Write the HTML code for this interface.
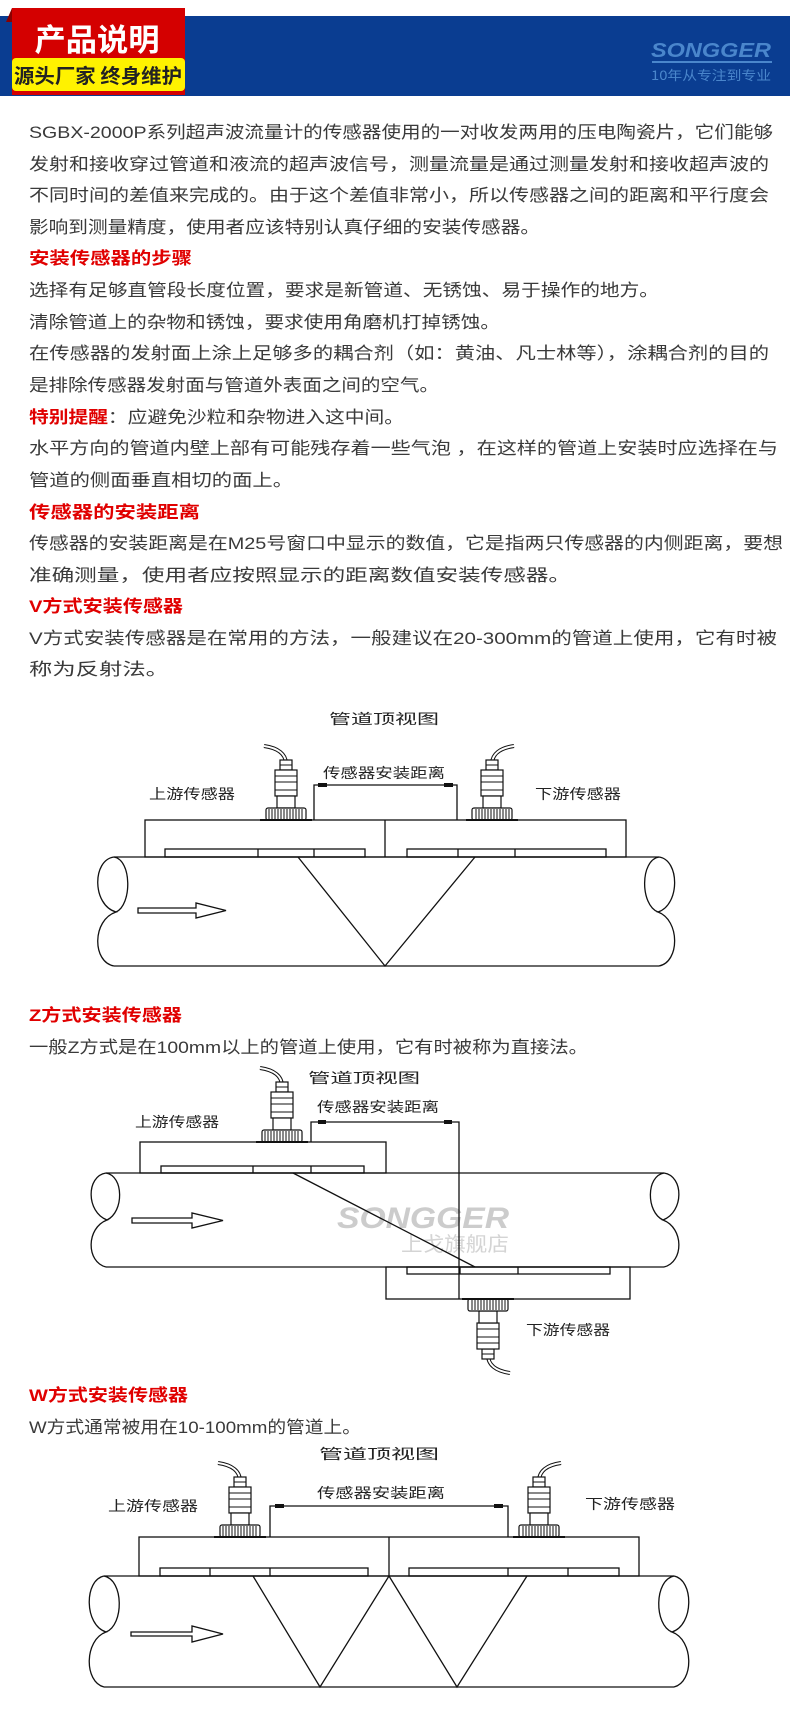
<!DOCTYPE html>
<html><head><meta charset="utf-8"><style>
html,body{margin:0;padding:0;background:#fff;}
svg{display:block;}
.t{font-family:"Liberation Sans","Noto Sans CJK SC",sans-serif;font-size:17px;fill:#3a3a3a;}
.r{font-family:"Liberation Sans","Noto Sans CJK SC",sans-serif;font-size:17px;fill:#e00000;font-weight:bold;}
.d{font-family:"Noto Sans CJK SC",sans-serif;font-size:14px;fill:#222;}
.ln{fill:none;stroke:#111;stroke-width:1.3;}
</style></head><body>
<svg width="790" height="1710" viewBox="0 0 790 1710" xmlns="http://www.w3.org/2000/svg">
<defs>
<g id="sn">
 <path d="M0,-56 C0,-66 -8,-72 -22,-74" fill="none" stroke="#111" stroke-width="4"/>
 <path d="M0,-56 C0,-66 -8,-72 -22,-74" fill="none" stroke="#fff" stroke-width="2"/>
 <rect x="-6" y="-60" width="12" height="10" fill="#fff" stroke="#111" stroke-width="1.2"/>
 <line x1="-6" y1="-55" x2="6" y2="-55" stroke="#111"/>
 <rect x="-11" y="-50" width="22" height="26" fill="#fff" stroke="#111" stroke-width="1.2"/>
 <line x1="-11" y1="-44" x2="11" y2="-44" stroke="#111"/>
 <line x1="-11" y1="-38" x2="11" y2="-38" stroke="#111"/>
 <line x1="-11" y1="-30" x2="11" y2="-30" stroke="#111"/>
 <rect x="-9" y="-24" width="18" height="12" fill="#fff" stroke="#111" stroke-width="1.2"/>
 <rect x="-20" y="-12" width="40" height="12" rx="2" fill="#fff" stroke="#111" stroke-width="1.2"/>
 <path d="M-17,-11V-1M-14,-11V-1M-11,-11V-1M-8,-11V-1M-5,-11V-1M-2,-11V-1M1,-11V-1M4,-11V-1M7,-11V-1M10,-11V-1M13,-11V-1M16,-11V-1" stroke="#111" stroke-width="1"/>
 <line x1="-26" y1="0" x2="26" y2="0" stroke="#111" stroke-width="2"/>
</g>
</defs>

<!-- header -->
<rect x="0" y="16" width="790" height="80" fill="#0a3d91"/>
<path d="M6,22 L12,8 L12,22 Z" fill="#8a0000"/>
<rect x="12" y="8" width="173" height="87" fill="#d40000"/>
<text x="97" y="51" text-anchor="middle" font-family="Noto Sans CJK SC,sans-serif" font-weight="bold" font-size="31" fill="#fff" textLength="125" lengthAdjust="spacingAndGlyphs">产品说明</text>
<rect x="12" y="58" width="173" height="33" rx="4" fill="#fff200"/>
<text x="98" y="83" text-anchor="middle" font-family="Noto Sans CJK SC,sans-serif" font-weight="bold" font-size="20" fill="#222" textLength="168" lengthAdjust="spacingAndGlyphs">源头厂家 终身维护</text>
<text x="711" y="57" text-anchor="middle" font-family="Liberation Sans,sans-serif" font-weight="bold" font-style="italic" font-size="20" fill="#4a86cc" textLength="120" lengthAdjust="spacingAndGlyphs">SONGGER</text>
<rect x="652" y="61" width="120" height="2" fill="#4a86cc"/>
<text x="711" y="80" text-anchor="middle" font-family="Noto Sans CJK SC,sans-serif" font-size="13" fill="#4a86cc" textLength="120" lengthAdjust="spacingAndGlyphs">10年从专注到专业</text>

<!-- body text -->
<g>
<text class="t" x="29" y="138" textLength="744" lengthAdjust="spacingAndGlyphs">SGBX-2000P系列超声波流量计的传感器使用的一对收发两用的压电陶瓷片，它们能够</text>
<text class="t" x="29" y="170" textLength="740" lengthAdjust="spacingAndGlyphs">发射和接收穿过管道和液流的超声波信号，测量流量是通过测量发射和接收超声波的</text>
<text class="t" x="29" y="201" textLength="740" lengthAdjust="spacingAndGlyphs">不同时间的差值来完成的。由于这个差值非常小，所以传感器之间的距离和平行度会</text>
<text class="t" x="29" y="233" textLength="511" lengthAdjust="spacingAndGlyphs">影响到测量精度，使用者应该特别认真仔细的安装传感器。</text>
<text class="r" x="29" y="264" textLength="163" lengthAdjust="spacingAndGlyphs">安装传感器的步骤</text>
<text class="t" x="29" y="296" textLength="630" lengthAdjust="spacingAndGlyphs">选择有足够直管段长度位置，要求是新管道、无锈蚀、易于操作的地方。</text>
<text class="t" x="29" y="328" textLength="471" lengthAdjust="spacingAndGlyphs">清除管道上的杂物和锈蚀，要求使用角磨机打掉锈蚀。</text>
<text class="t" x="29" y="359" textLength="740" lengthAdjust="spacingAndGlyphs">在传感器的发射面上涂上足够多的耦合剂（如：黄油、凡士林等），涂耦合剂的目的</text>
<text class="t" x="29" y="391" textLength="410" lengthAdjust="spacingAndGlyphs">是排除传感器发射面与管道外表面之间的空气。</text>
<text class="t" x="29" y="423" textLength="375" lengthAdjust="spacingAndGlyphs"><tspan fill="#e00000" font-weight="bold">特别提醒</tspan>：应避免沙粒和杂物进入这中间。</text>
<text class="t" x="29" y="454" textLength="749" lengthAdjust="spacingAndGlyphs">水平方向的管道内壁上部有可能残存着一些气泡 ，在这样的管道上安装时应选择在与</text>
<text class="t" x="29" y="486" textLength="264" lengthAdjust="spacingAndGlyphs">管道的侧面垂直相切的面上。</text>
<text class="r" x="29" y="518" textLength="171" lengthAdjust="spacingAndGlyphs">传感器的安装距离</text>
<text class="t" x="29" y="549" textLength="754" lengthAdjust="spacingAndGlyphs">传感器的安装距离是在M25号窗口中显示的数值，它是指两只传感器的内侧距离，要想</text>
<text class="t" x="29" y="581" textLength="542" lengthAdjust="spacingAndGlyphs">准确测量，使用者应按照显示的距离数值安装传感器。</text>
<text class="r" x="29" y="612" textLength="154" lengthAdjust="spacingAndGlyphs">V方式安装传感器</text>
<text class="t" x="29" y="644" textLength="748" lengthAdjust="spacingAndGlyphs">V方式安装传感器是在常用的方法，一般建议在20-300mm的管道上使用，它有时被</text>
<text class="t" x="29" y="675" textLength="140" lengthAdjust="spacingAndGlyphs">称为反射法。</text>
</g>

<!-- V diagram -->
<g>
<text class="d" x="384" y="724" text-anchor="middle" font-size="16" textLength="110" lengthAdjust="spacingAndGlyphs">管道顶视图</text>
<text class="d" x="384" y="778" text-anchor="middle" textLength="122" lengthAdjust="spacingAndGlyphs">传感器安装距离</text>
<text class="d" x="192" y="799" text-anchor="middle" textLength="86" lengthAdjust="spacingAndGlyphs">上游传感器</text>
<text class="d" x="578" y="799" text-anchor="middle" textLength="86" lengthAdjust="spacingAndGlyphs">下游传感器</text>
<rect x="145" y="820" width="481" height="37" class="ln"/>
<line x1="385" y1="820" x2="385" y2="857" class="ln"/>
<rect x="165" y="849" width="200" height="8" class="ln"/>
<path d="M258,849V857M314,849V857" class="ln"/>
<rect x="407" y="849" width="199" height="8" class="ln"/>
<path d="M458,849V857M515,849V857" class="ln"/>
<path d="M314,820V785H457V820M314,785h14M443,785h14" class="ln"/>
<rect x="318" y="783" width="9" height="4" fill="#111"/><rect x="444" y="783" width="9" height="4" fill="#111"/>
<use href="#sn" x="286" y="820"/>
<use href="#sn" x="492" y="820" transform="translate(984,0) scale(-1,1)"/>
<path d="M114,857H659M114,966H659" class="ln"/>
<path d="M114,857 C92,860 92,905 116,912 C92,920 92,962 114,966" class="ln"/>
<path d="M114,857 C132,860 132,905 116,912" class="ln"/>
<path d="M659,857 C680,860 680,905 658,912 C680,920 680,962 659,966" class="ln"/>
<path d="M659,857 C640,860 640,905 658,912" class="ln"/>
<path d="M298,857 L385,966 L475,857" class="ln"/>
<path d="M138,908H196V903L226,910.5L196,918V913H138Z" class="ln"/>
</g>

<!-- Z -->
<text class="r" x="29" y="1021" textLength="153" lengthAdjust="spacingAndGlyphs">Z方式安装传感器</text>
<text class="t" x="29" y="1053" textLength="559" lengthAdjust="spacingAndGlyphs">一般Z方式是在100mm以上的管道上使用，它有时被称为直接法。</text>
<g>
<text class="d" x="364" y="1083" text-anchor="middle" font-size="15" textLength="112" lengthAdjust="spacingAndGlyphs">管道顶视图</text>
<text class="d" x="378" y="1112" text-anchor="middle" font-size="12" textLength="122" lengthAdjust="spacingAndGlyphs">传感器安装距离</text>
<text class="d" x="177" y="1127" text-anchor="middle" font-size="12" textLength="84" lengthAdjust="spacingAndGlyphs">上游传感器</text>
<text class="d" x="568" y="1335" text-anchor="middle" font-size="12" textLength="84" lengthAdjust="spacingAndGlyphs">下游传感器</text>
<text x="423" y="1228" text-anchor="middle" font-family="Liberation Sans,sans-serif" font-weight="bold" font-style="italic" font-size="30" fill="#ccc" textLength="172" lengthAdjust="spacingAndGlyphs">SONGGER</text>
<text x="455" y="1251" text-anchor="middle" font-family="Noto Sans CJK SC,sans-serif" font-size="20" fill="#d4d4d4" textLength="108" lengthAdjust="spacingAndGlyphs">上戈旗舰店</text>
<rect x="140" y="1142" width="246" height="31" class="ln"/>
<rect x="161" y="1166" width="203" height="7" class="ln"/>
<path d="M253,1166V1173M311,1166V1173" class="ln"/>
<rect x="386" y="1267" width="244" height="32" class="ln"/>
<rect x="407" y="1267" width="203" height="7" class="ln"/>
<path d="M460,1267V1274M518,1267V1274" class="ln"/>
<path d="M311,1142V1122H459V1299" class="ln"/>
<rect x="318" y="1120" width="8" height="4" fill="#111"/><rect x="444" y="1120" width="8" height="4" fill="#111"/>
<use href="#sn" x="282" y="1142"/>
<use href="#sn" transform="translate(488,1299) scale(-1,-1)"/>
<path d="M106,1173H664M106,1267H664" class="ln"/>
<path d="M106,1173 C86,1176 86,1212 107,1220 C86,1228 86,1262 106,1267" class="ln"/>
<path d="M106,1173 C124,1176 124,1212 107,1220" class="ln"/>
<path d="M664,1173 C684,1176 684,1212 663,1220 C684,1228 684,1262 664,1267" class="ln"/>
<path d="M664,1173 C646,1176 646,1212 663,1220" class="ln"/>
<path d="M293,1173 L475,1267" class="ln"/>
<path d="M132,1218H192V1213L223,1220.5L192,1228V1223H132Z" class="ln"/>
</g>

<!-- W -->
<text class="r" x="29" y="1401" textLength="159" lengthAdjust="spacingAndGlyphs">W方式安装传感器</text>
<text class="t" x="29" y="1433" textLength="332" lengthAdjust="spacingAndGlyphs">W方式通常被用在10-100mm的管道上。</text>
<g>
<text class="d" x="379" y="1459" text-anchor="middle" font-size="19" textLength="120" lengthAdjust="spacingAndGlyphs">管道顶视图</text>
<text class="d" x="381" y="1498" text-anchor="middle" font-size="16" textLength="128" lengthAdjust="spacingAndGlyphs">传感器安装距离</text>
<text class="d" x="153" y="1511" text-anchor="middle" font-size="16" textLength="90" lengthAdjust="spacingAndGlyphs">上游传感器</text>
<text class="d" x="630" y="1509" text-anchor="middle" font-size="16" textLength="90" lengthAdjust="spacingAndGlyphs">下游传感器</text>
<rect x="139" y="1537" width="500" height="39" class="ln"/>
<line x1="389" y1="1537" x2="389" y2="1576" class="ln"/>
<rect x="160" y="1568" width="208" height="8" class="ln"/>
<path d="M210,1568V1576M270,1568V1576" class="ln"/>
<rect x="409" y="1568" width="210" height="8" class="ln"/>
<path d="M508,1568V1576M568,1568V1576" class="ln"/>
<path d="M270,1537V1506H508V1537" class="ln"/>
<rect x="275" y="1504" width="9" height="4" fill="#111"/><rect x="494" y="1504" width="9" height="4" fill="#111"/>
<use href="#sn" x="240" y="1537"/>
<use href="#sn" transform="translate(539,1537) scale(-1,1)"/>
<path d="M104,1576H674M104,1687H674" class="ln"/>
<path d="M104,1576 C84,1580 84,1625 106,1632 C84,1640 84,1682 104,1687" class="ln"/>
<path d="M104,1576 C124,1580 124,1625 106,1632" class="ln"/>
<path d="M674,1576 C694,1580 694,1625 672,1632 C694,1640 694,1682 674,1687" class="ln"/>
<path d="M674,1576 C654,1580 654,1625 672,1632" class="ln"/>
<path d="M253,1576 L320,1687 L389,1576 L457,1687 L527,1576" class="ln"/>
<path d="M131,1632H192V1626L223,1634L192,1642V1636H131Z" class="ln"/>
</g>
</svg>
</body></html>
